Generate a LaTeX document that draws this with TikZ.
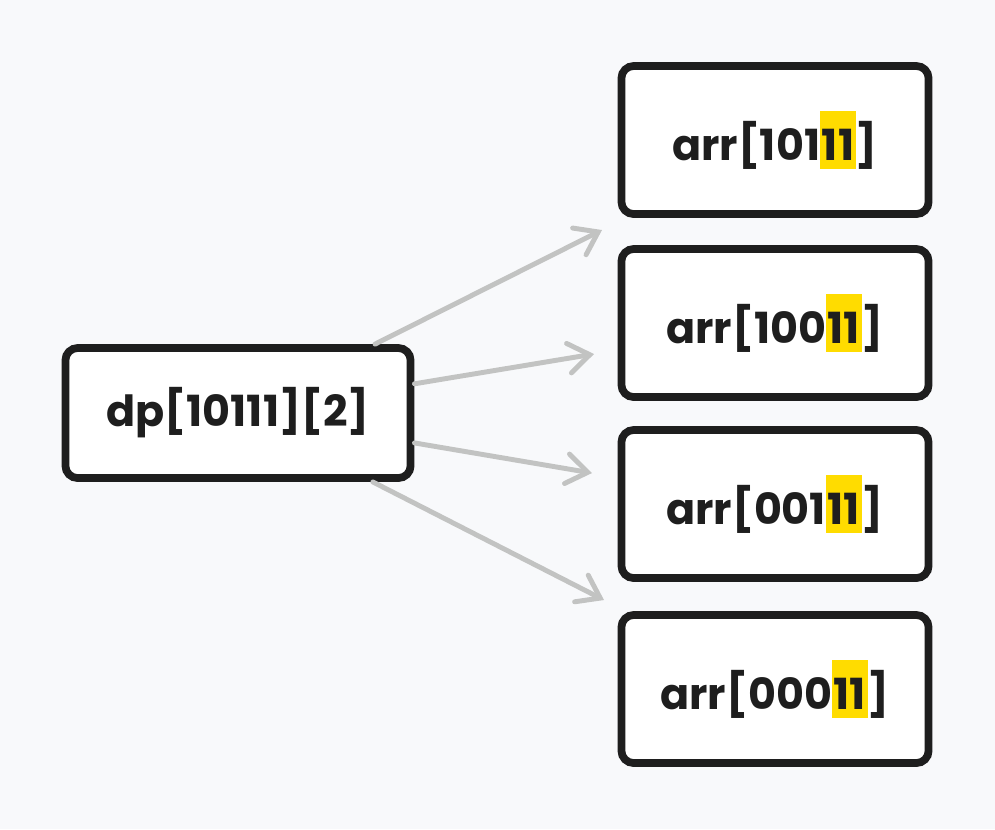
\documentclass[tikz,border=0pt]{standalone}
\usepackage{fontspec}
\setmainfont{Poppins}
\usetikzlibrary{arrows.meta}
\definecolor{dpbg}{HTML}{F8F9FB}
\definecolor{dpink}{HTML}{1E1E1E}
\definecolor{dpcard}{HTML}{FFFFFF}
\definecolor{dpgray}{HTML}{C2C3C2}
\definecolor{dpyellow}{HTML}{FFDC00}
\newcommand{\hlbits}[1]{{\setlength{\fboxsep}{0pt}\colorbox{dpyellow}{\rule[-2.6pt]{0pt}{16.6pt}\kern0.5pt#1\kern0.5pt}}}

\begin{document}
\begin{tikzpicture}[
        x=0.01cm, y=-0.01cm,
        every node/.style={font=\fontsize{12.2}{14}\selectfont\bfseries, text=dpink},
        src/.style={
          draw=dpink, line width=2.2pt,
          fill=dpcard, rounded corners=3.5pt,
          minimum width=3.45cm, minimum height=1.30cm, align=center,
        },
        cell/.style={
          draw=dpink, line width=2.2pt,
          fill=dpcard, rounded corners=3.5pt,
          minimum width=3.07cm, minimum height=1.48cm, align=center,
        },
        uses/.style={-{Straight Barb[length=6pt, width=8.5pt, line cap=round]},
          draw=dpgray, line width=1.4pt, line cap=round},
      ]
      \useasboundingbox[fill=dpbg] (0,0) rectangle (995,829);

      \node[src]  (dp) at (238, 413) {dp[10111][2]};
      \node[cell] (a1) at (775, 140) {arr[101\hlbits{11}]};
      \node[cell] (a2) at (775, 323) {arr[100\hlbits{11}]};
      \node[cell] (a3) at (775, 504) {arr[001\hlbits{11}]};
      \node[cell] (a4) at (775, 689) {arr[000\hlbits{11}]};

      \coordinate (e1) at (602, 230);
      \coordinate (e2) at (594, 354);
      \coordinate (e3) at (592, 473);
      \coordinate (e4) at (604, 600);

      \draw[uses] (dp) -- (e1);
      \draw[uses] (dp) -- (e2);
      \draw[uses] (dp) -- (e3);
      \draw[uses] (dp) -- (e4);
    \end{tikzpicture}
\end{document}
